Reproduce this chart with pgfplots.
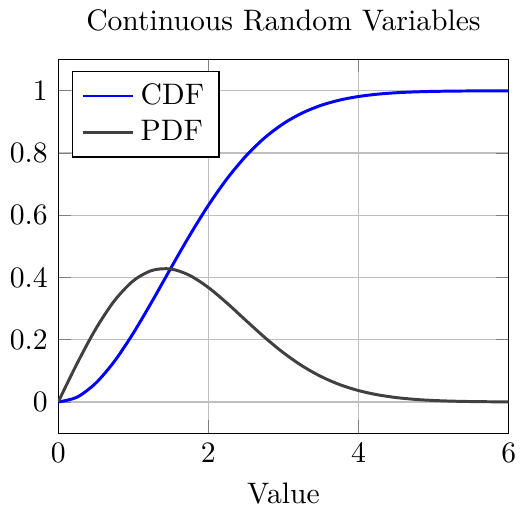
\documentclass[border=0pt]{standalone}
\usepackage{pgfplots}
\pgfplotsset{compat=1.18}
\begin{document}
\begin{tikzpicture}
\begin{axis}[
  scale only axis,
  width=152pt, height=126pt,
  xmin=0, xmax=6, ymin=-0.1, ymax=1.1,
  ytick={0,0.2,0.4,0.6,0.8,1},
  grid=major,
  title={Continuous Random Variables},
  xlabel={Value},
  legend pos=north west,
  legend cell align=left,
]
\addplot[blue, line width=1pt, smooth] coordinates {
(0,0) (0.25,0.01550) (0.5,0.06059) (0.75,0.13118) (1.0,0.22120) (1.25,0.32337)
(1.5,0.43022) (1.75,0.53495) (2.0,0.63212) (2.25,0.71795) (2.5,0.79039)
(2.75,0.84903) (3.0,0.89460) (3.25,0.92868) (3.5,0.95323) (3.75,0.97028)
(4.0,0.98168) (4.25,0.98906) (4.5,0.99367) (4.75,0.99645) (5.0,0.99807)
(5.25,0.99898) (5.5,0.99948) (5.75,0.99974) (6.0,0.99988)};
\addlegendentry{CDF}
\addplot[black!75, line width=1pt, smooth] coordinates {
(0,0) (0.25,0.12306) (0.5,0.23485) (0.75,0.32581) (1.0,0.38940) (1.25,0.42289)
(1.5,0.42734) (1.75,0.40692) (2.0,0.36788) (2.25,0.31731) (2.5,0.26201)
(2.75,0.20758) (3.0,0.15810) (3.25,0.11590) (3.5,0.08185) (3.75,0.05573)
(4.0,0.03663) (4.25,0.02325) (4.5,0.01424) (4.75,0.00843) (5.0,0.00483)
(5.25,0.00267) (5.5,0.00143) (5.75,0.00074) (6.0,0.00037)};
\addlegendentry{PDF}
\end{axis}
\end{tikzpicture}
\end{document}
